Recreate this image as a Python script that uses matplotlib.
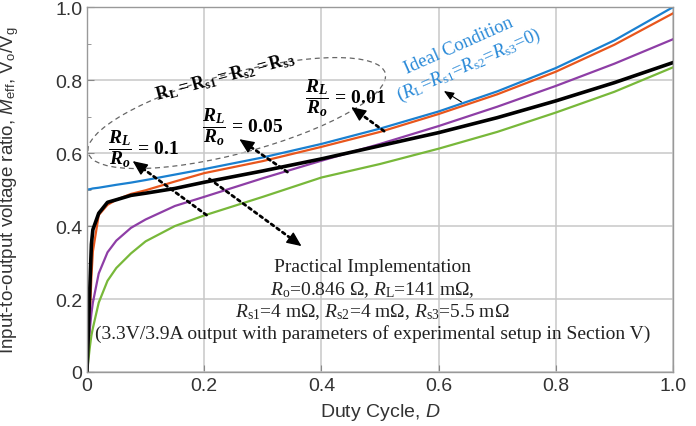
import matplotlib
matplotlib.use("Agg")
import matplotlib.pyplot as plt
from matplotlib.patches import Ellipse
from matplotlib.transforms import Affine2D
from matplotlib.ticker import MultipleLocator

plt.rcParams['font.family'] = ['Liberation Sans', 'DejaVu Sans']
plt.rcParams['mathtext.fontset'] = 'custom'
plt.rcParams['mathtext.rm'] = 'Liberation Serif'
plt.rcParams['mathtext.it'] = 'Liberation Serif:italic'
plt.rcParams['mathtext.bf'] = 'Liberation Serif:bold'
plt.rcParams['mathtext.sf'] = 'Liberation Serif:italic:bold'
plt.rcParams['mathtext.cal'] = 'Liberation Sans:italic'
plt.rcParams['mathtext.tt'] = 'Liberation Sans'

# duty cycle points
duty = [0, 0.005, 0.0075, 0.01, 0.02, 0.035, 0.05, 0.075, 0.1, 0.15, 0.2,
        0.3, 0.4, 0.5, 0.6, 0.7, 0.8, 0.9, 1.0]
m_ideal = [0.5, 0.501, 0.502, 0.503, 0.505, 0.509, 0.513, 0.519, 0.526, 0.541, 0.556,
           0.588, 0.625, 0.667, 0.714, 0.769, 0.833, 0.909, 1.0]
m_001 = [0, 0.16, 0.26, 0.33, 0.43, 0.458, 0.472, 0.488, 0.498, 0.522, 0.545,
         0.578, 0.617, 0.658, 0.707, 0.761, 0.823, 0.897, 0.983]
m_005 = [0, 0.12, 0.16, 0.19, 0.27, 0.328, 0.36, 0.395, 0.418, 0.455, 0.48,
         0.531, 0.579, 0.625, 0.674, 0.727, 0.784, 0.845, 0.912]
m_01 = [0, 0.07, 0.10, 0.12, 0.19, 0.25, 0.285, 0.325, 0.358, 0.40, 0.429,
        0.48, 0.533, 0.57, 0.612, 0.658, 0.711, 0.768, 0.835]
m_practical = [0, 0.24, 0.35, 0.39, 0.435, 0.465, 0.472, 0.484, 0.49, 0.503, 0.52,
               0.551, 0.584, 0.62, 0.656, 0.697, 0.743, 0.793, 0.848]

ticks = [0, 0.2, 0.4, 0.6, 0.8, 1.0]
tick_labels = ['0', '0.2', '0.4', '0.6', '0.8', '1.0']

fig = plt.figure(figsize=(6.96, 4.27), dpi=100)
ax = fig.add_axes([0.125, 0.1265, 0.842, 0.8545])

ax.plot(duty, m_ideal, color='#1a80d0', lw=1.6)
ax.plot(duty, m_001, color='#e8561c', lw=1.6)
ax.plot(duty, m_005, color='#8e3ea6', lw=1.6)
ax.plot(duty, m_01, color='#78b83a', lw=1.6)
ax.plot(duty, m_practical, color='black', lw=2.6)

ax.set_xlim(0, 1.0)
ax.set_ylim(0, 1.0)
ax.set_xticks(ticks)
ax.set_xticklabels(tick_labels)
ax.set_yticks(ticks)
ax.set_yticklabels(tick_labels)
ax.yaxis.set_minor_locator(MultipleLocator(0.1))
ax.grid(True, color='#c8c8c8', lw=1.1)
ax.tick_params(which='both', direction='in', colors='#888888', labelcolor='#333333',
               labelsize=14)
ax.tick_params(which='major', length=5)
ax.tick_params(which='minor', length=3)
for s in ax.spines.values():
    s.set_color('#999999')
    s.set_linewidth(1.0)

ax.set_xlabel(r'Duty Cycle, $\mathcal{D}$', fontsize=14, color='#333333')
ax.set_ylabel(r'Input-to-output voltage ratio, $\mathcal{M}_{\mathtt{eff}}$, V$_{\mathtt{o}}$/V$_{\mathtt{g}}$',
              fontsize=13.5, color='#333333')
ax.xaxis.set_label_coords(0.5, -0.08)
ax.yaxis.set_label_coords(-0.112, 0.5)

# dashed ellipse grouping the loss cases (sized in pixels)
ell = Ellipse((0, 0), 308, 80, angle=15, fill=False, ls=(0, (4, 3)), lw=0.9,
              color='#666666',
              transform=Affine2D().scale(1 / 587, 1 / 365).translate(0.2555, 0.7096) + ax.transData)
ax.add_patch(ell)

ax.text(0.235, 0.811, r'$\mathbf{R_L=R_{s1}=R_{s2}=R_{s3}}$', fontsize=13,
        rotation=15, ha='center', va='center')

frac = r'$\dfrac{\mathsf{R}_{\mathsf{L}}}{\mathsf{R}_{\mathsf{o}}}\mathbf{\,=\,%s}$'
ax.text(0.035, 0.614, frac % '0.1', fontsize=14, ha='left', va='center')
ax.text(0.196, 0.674, frac % '0.05', fontsize=14, ha='left', va='center')
ax.text(0.372, 0.753, frac % '0.01', fontsize=14, ha='left', va='center')


def dotted_arrow(tail, head):
    ax.annotate('', xy=head, xytext=tail,
                arrowprops=dict(arrowstyle='-', color='black', lw=2.0,
                                ls=(0, (1.1, 1.4)), shrinkA=0, shrinkB=4))
    back = (head[0] - 0.1 * (head[0] - tail[0]), head[1] - 0.1 * (head[1] - tail[1]))
    ax.annotate('', xy=head, xytext=back,
                arrowprops=dict(arrowstyle='-|>,head_length=0.9,head_width=0.4',
                                color='black', lw=1.0, shrinkA=0, shrinkB=0))


dotted_arrow((0.204, 0.430), (0.078, 0.578))
dotted_arrow((0.342, 0.548), (0.260, 0.638))
dotted_arrow((0.507, 0.660), (0.451, 0.726))
dotted_arrow((0.209, 0.529), (0.366, 0.345))

ax.text(0.634, 0.896, 'Ideal Condition', family='Liberation Serif', fontsize=13.5,
        color='#2a8ad8', rotation=24, ha='center', va='center')
ax.text(0.651, 0.841, r'($R_{\mathrm{L}}$=$R_{\mathrm{s1}}$=$R_{\mathrm{s2}}$=$R_{\mathrm{s3}}$=0)',
        family='Liberation Serif', fontsize=13.5, color='#2a8ad8', rotation=24,
        ha='center', va='center')
ax.annotate('', xy=(0.609, 0.770), xytext=(0.639, 0.740),
            arrowprops=dict(arrowstyle='-|>,head_length=0.6,head_width=0.25',
                            color='black', lw=0.8, shrinkA=0, shrinkB=0))

practical = ['Practical Implementation',
             r'$R_{\mathrm{o}}$=0.846 $\Omega$, $R_{\mathrm{L}}$=141 m$\Omega$,',
             r'$R_{\mathrm{s1}}$=4 m$\Omega$, $R_{\mathrm{s2}}$=4 m$\Omega$, $R_{\mathrm{s3}}$=5.5 m$\Omega$',
             '(3.3V/3.9A output with parameters of experimental setup in Section V)']
line_y = [0.29, 0.228, 0.168, 0.106]
for txt, yy in zip(practical, line_y):
    ax.text(0.487, yy, txt, family='Liberation Serif', fontsize=14, color='#222222',
            ha='center', va='center')

fig.savefig('out.png', dpi=100)
